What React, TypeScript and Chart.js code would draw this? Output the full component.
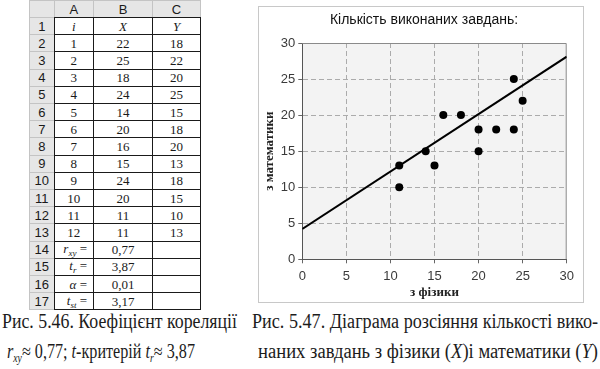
import React, { useEffect, useLayoutEffect, useRef } from "react";
import { Chart, registerables } from "chart.js";
Chart.register(...registerables);

// ---------- data ----------
const chartTitle = "Кількість виконаних завдань:";
const xAxisTitle = "з фізики";
const yAxisTitle = "з математики";
const studentIndex = [1, 2, 3, 4, 5, 6, 7, 8, 9, 10, 11, 12];
const physics = [22, 25, 18, 24, 14, 20, 16, 15, 24, 20, 11, 11];
const maths = [18, 22, 20, 25, 15, 18, 20, 13, 18, 15, 10, 13];
const trendX = [0, 30];
const trendY = [4.2, 28.1];
const axisMin = 0;
const axisMax = 30;
const axisStep = 5;
const columnLetters = ["A", "B", "C"];
const headerSymbols = ["i", "X", "Y"];
const statSymbols = ["r", "t", "α", "t"];
const statSubs = ["xy", "r", "", "st"];
const statValues = ["0,77", "3,87", "0,01", "3,17"];

const SANS = '"Liberation Sans", Arial, sans-serif';
const SERIF = '"Liberation Serif", "Times New Roman", serif';

// ---------- table ----------
const colEdges = [29, 53.5, 93, 152, 200];
const headerH = 17;
const rowH = 17.2;

function rowTop(r: number) {
  return r === 0 ? 0 : headerH + (r - 1) * rowH;
}

function Cell(props: {
  col: number;
  row: number;
  gray?: boolean;
  align?: "center" | "flex-end";
  font?: string;
  children?: React.ReactNode;
}) {
  const { col, row, gray, align = "center", font = SERIF, children } = props;
  const l = colEdges[col];
  const r = colEdges[col + 1];
  const t = rowTop(row);
  const h = row === 0 ? headerH : rowH;
  return (
    <div
      style={{
        position: "absolute",
        left: l,
        top: t,
        width: r - l + 1,
        height: h + 1,
        boxSizing: "border-box",
        border: gray ? "1px solid #c4c4c4" : "1px solid #1a1a1a",
        background: gray ? "#e6e6e6" : "#fff",
        display: "flex",
        alignItems: "center",
        justifyContent: align,
        paddingRight: align === "flex-end" ? 6 : 0,
        fontFamily: font,
        fontSize: 13,
        lineHeight: "13px",
        color: "#1a1a1a",
        whiteSpace: "nowrap",
      }}
    >
      {children}
    </div>
  );
}

function Table() {
  const cells: React.ReactNode[] = [];
  cells.push(<Cell key="h0" col={0} row={0} gray />);
  columnLetters.forEach((c, i) =>
    cells.push(
      <Cell key={"h" + (i + 1)} col={i + 1} row={0} gray font={SANS}>
        {c}
      </Cell>
    )
  );
  for (let r = 1; r <= 17; r++) {
    cells.push(
      <Cell key={"rh" + r} col={0} row={r} gray font={SANS}>
        {r}
      </Cell>
    );
  }
  headerSymbols.forEach((s, i) =>
    cells.push(
      <Cell key={"s" + i} col={i + 1} row={1}>
        <i>{s}</i>
      </Cell>
    )
  );
  studentIndex.forEach((n, i) => {
    const r = i + 2;
    cells.push(<Cell key={"a" + r} col={1} row={r}>{n}</Cell>);
    cells.push(<Cell key={"b" + r} col={2} row={r}>{physics[i]}</Cell>);
    cells.push(<Cell key={"c" + r} col={3} row={r}>{maths[i]}</Cell>);
  });
  statSymbols.forEach((s, i) => {
    const r = 14 + i;
    cells.push(
      <Cell key={"sa" + r} col={1} row={r} align="flex-end">
        <span>
          <i>{s}</i>
          {statSubs[i] ? (
            <i style={{ fontSize: 9, position: "relative", top: 3 }}>{statSubs[i]}</i>
          ) : null}
          {" ="}
        </span>
      </Cell>
    );
    cells.push(<Cell key={"sb" + r} col={2} row={r}>{statValues[i]}</Cell>);
    cells.push(<Cell key={"sc" + r} col={3} row={r} />);
  });
  return <>{cells}</>;
}

// ---------- captions ----------
function FitText(props: { left: number; top: number; width: number; size: number; children: React.ReactNode }) {
  const ref = useRef<HTMLSpanElement>(null);
  useLayoutEffect(() => {
    const el = ref.current;
    if (!el) return;
    el.style.transform = "none";
    const w = el.getBoundingClientRect().width;
    if (w > 0) el.style.transform = `scaleX(${props.width / w})`;
  }, []);
  return (
    <span
      ref={ref}
      style={{
        position: "absolute",
        left: props.left,
        top: props.top,
        whiteSpace: "nowrap",
        transformOrigin: "0 0",
        fontFamily: SERIF,
        fontSize: props.size,
        lineHeight: props.size + "px",
        color: "#1c1c1c",
      }}
    >
      {props.children}
    </span>
  );
}

const Sub = (p: { children: React.ReactNode }) => (
  <span style={{ fontSize: "0.6em", position: "relative", top: "0.3em" }}>{p.children}</span>
);

// ---------- chart ----------
function ScatterChart() {
  const ref = useRef<HTMLCanvasElement>(null);
  useEffect(() => {
    if (!ref.current) return;
    const gridColor = (ctx: any) =>
      ctx.tick && (ctx.tick.value === axisMin || ctx.tick.value === axisMax) ? "rgba(0,0,0,0)" : "#ababab";
    const plotFrame = {
      id: "plotFrame",
      beforeDraw(chart: any) {
        const { ctx, chartArea: a } = chart;
        ctx.save();
        ctx.fillStyle = "#f3f3f3";
        ctx.fillRect(a.left, a.top, a.right - a.left, a.bottom - a.top);
        ctx.restore();
      },
      beforeDatasetsDraw(chart: any) {
        const { ctx, chartArea: a } = chart;
        ctx.save();
        ctx.strokeStyle = "#8a8a8a";
        ctx.lineWidth = 1;
        ctx.beginPath();
        ctx.moveTo(a.left, a.top + 0.5);
        ctx.lineTo(a.right - 0.5, a.top + 0.5);
        ctx.lineTo(a.right - 0.5, a.bottom);
        ctx.stroke();
        ctx.restore();
      },
    };
    const chart = new Chart(ref.current, {
      type: "scatter",
      data: {
        datasets: [
          {
            data: physics.map((x, i) => ({ x, y: maths[i] })),
            backgroundColor: "#000",
            borderColor: "#000",
            pointRadius: 4,
            pointHoverRadius: 4,
            borderWidth: 0,
          },
          {
            data: trendX.map((x, i) => ({ x, y: trendY[i] })),
            showLine: true,
            borderColor: "#000",
            borderWidth: 2,
            pointRadius: 0,
            pointHoverRadius: 0,
          },
        ],
      },
      options: {
        animation: false,
        responsive: true,
        maintainAspectRatio: false,
        events: [],
        layout: { padding: { top: 0, right: 0, bottom: 0, left: 6 } },
        plugins: {
          legend: { display: false },
          tooltip: { enabled: false },
          title: {
            display: true,
            text: chartTitle,
            color: "#111",
            font: { family: SANS, size: 14, weight: "normal", lineHeight: 1.2 },
            padding: { top: 4.6, bottom: 14.6 },
          },
        },
        scales: {
          x: {
            type: "linear",
            min: axisMin,
            max: axisMax,
            ticks: { stepSize: axisStep, color: "#3a3a3a", font: { family: SANS, size: 13 }, padding: 5 },
            grid: { color: gridColor, tickColor: "#666", tickLength: 4 },
            border: { color: "#555", width: 1, dash: [5, 3] },
            title: {
              display: true,
              text: xAxisTitle,
              color: "#222",
              font: { family: SERIF, size: 13, weight: "bold", lineHeight: 1.2 },
              padding: { top: 0, bottom: 1.2 },
            },
            afterFit: (s: any) => {
              s.height = 42.7;
            },
          },
          y: {
            type: "linear",
            min: axisMin,
            max: axisMax,
            ticks: { stepSize: axisStep, color: "#3a3a3a", font: { family: SANS, size: 13 }, padding: 3 },
            grid: { color: gridColor, tickColor: "#666", tickLength: 4 },
            border: { color: "#555", width: 1, dash: [5, 3] },
            title: {
              display: true,
              text: yAxisTitle,
              color: "#222",
              font: { family: SERIF, size: 13, weight: "bold", lineHeight: 1 },
              padding: { top: -1.5, bottom: 0 },
            },
            afterFit: (s: any) => {
              s.width = 37.3;
            },
          },
          yRight: {
            type: "linear",
            position: "right",
            display: true,
            ticks: { display: false },
            grid: { display: false, drawTicks: false },
            border: { display: false },
            afterFit: (s: any) => {
              s.width = 16.3;
            },
          },
        },
      } as any,
      plugins: [plotFrame],
    });
    return () => chart.destroy();
  }, []);
  return (
    <div
      style={{
        position: "absolute",
        left: 258,
        top: 6,
        width: 326,
        height: 297,
        boxSizing: "border-box",
        border: "1px solid #c8c8c8",
        background: "#fff",
      }}
    >
      <div style={{ position: "relative", width: 324, height: 295 }}>
        <canvas ref={ref} />
      </div>
    </div>
  );
}

export default function App() {
  return (
    <div
      style={{
        position: "absolute",
        left: 0,
        top: 0,
        width: 600,
        height: 369,
        background: "#fff",
        overflow: "hidden",
      }}
    >
      <Table />
      <ScatterChart />
      <FitText left={2} top={311} width={235} size={20}>
        Рис. 5.46. Коефіцієнт кореляції
      </FitText>
      <FitText left={7} top={341} width={188} size={20}>
        <i>r</i>
        <Sub>
          <i>xy</i>
        </Sub>
        {"≈ 0,77; "}
        <i>t</i>
        {"-критерій "}
        <i>t</i>
        <Sub>
          <i>r</i>
        </Sub>
        {"≈ 3,87"}
      </FitText>
      <FitText left={252} top={311} width={346} size={20}>
        Рис. 5.47. Діаграма розсіяння кількості вико-
      </FitText>
      <FitText left={258} top={341} width={340} size={20}>
        {"наних завдань з фізики ("}
        <i>X</i>
        {")і математики ("}
        <i>Y</i>
        {")"}
      </FitText>
    </div>
  );
}
